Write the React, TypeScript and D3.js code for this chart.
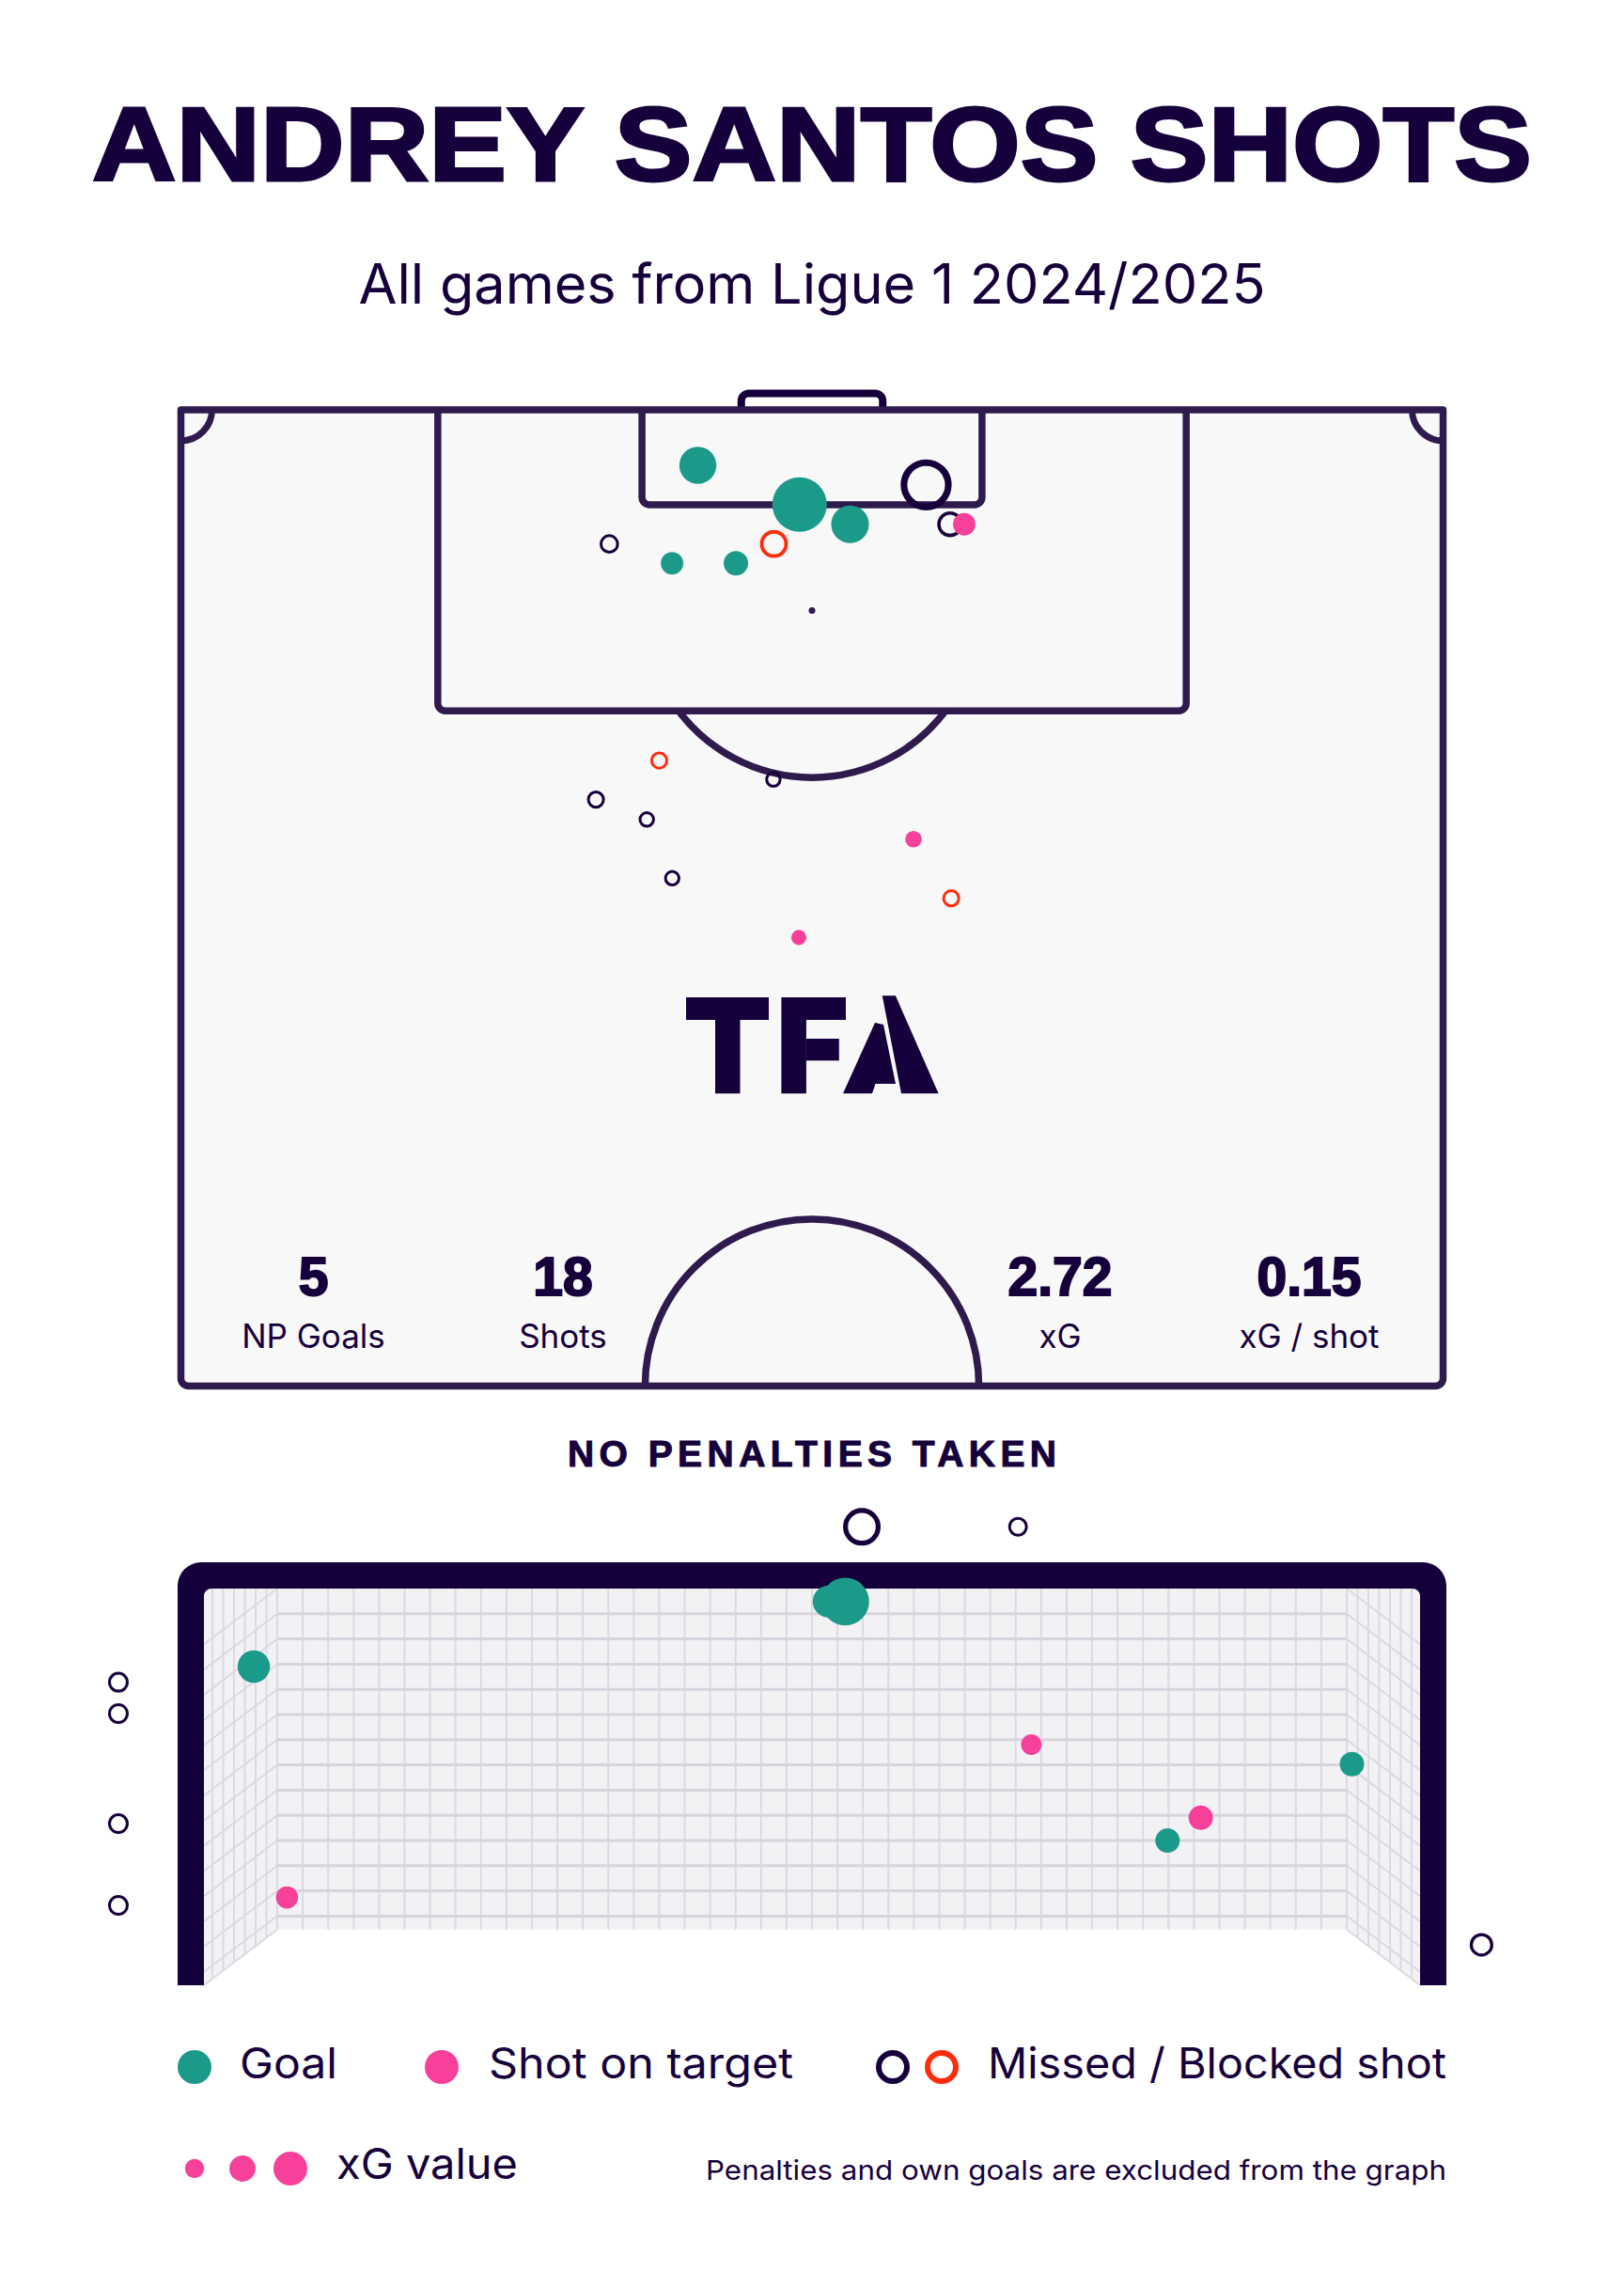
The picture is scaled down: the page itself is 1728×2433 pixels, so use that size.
import React from 'react';
import * as d3 from 'd3';

// ---------- DATA ----------
const TITLE = 'ANDREY SANTOS SHOTS';
const SUBTITLE = 'All games from Ligue 1 2024/2025';
const PEN_TEXT = 'NO PENALTIES TAKEN';
const FOOTNOTE = 'Penalties and own goals are excluded from the graph';

const statValues = ['5', '18', '2.72', '0.15'];
const statLabels = ['NP Goals', 'Shots', 'xG', 'xG / shot'];

// Pitch shots: x = metres from left touchline, y = metres from goal line
const shotX = [27.85, 33.33, 36.05, 40.15, 41.44, 42.2, 23.08, 31.95, 26.46, 29.9, 25.77, 31.92, 22.36, 25.1, 39.47, 26.47, 41.5, 33.29];
const shotY = [3.04, 5.19, 6.27, 4.11, 6.27, 6.27, 7.35, 7.35, 8.41, 8.41, 19.22, 20.26, 21.36, 22.45, 23.53, 25.67, 26.77, 28.92];
const shotXG = [0.3, 0.65, 0.31, 0.43, 0.11, 0.11, 0.06, 0.13, 0.11, 0.13, 0.05, 0.04, 0.05, 0.04, 0.06, 0.04, 0.05, 0.05];
const shotOutcome = ['Goal', 'Goal', 'Goal', 'Missed', 'Missed', 'On target', 'Missed', 'Blocked', 'Goal', 'Goal', 'Blocked', 'Missed', 'Missed', 'Missed', 'On target', 'Missed', 'Blocked', 'On target'];

// Goal-mouth view: x = metres from goal centre, y = metres above ground, v = plotted size value
const gmX = [-3.36, 0.1, 0.2, 3.25, 2.14, 1.32, 2.34, -3.16, 0.3, 1.24, -4.175, -4.175, -4.175, -4.175, 4.03];
const gmY = [1.96, 2.36, 2.36, 1.36, 0.89, 1.48, 1.03, 0.54, 2.82, 2.82, 1.864, 1.671, 0.994, 0.491, 0.249];
const gmValue = [0.3, 0.29, 0.65, 0.17, 0.17, 0.12, 0.17, 0.14, 0.305, 0.082, 0.091, 0.091, 0.091, 0.091, 0.12];
const gmOutcome = ['Goal', 'Goal', 'Goal', 'Goal', 'Goal', 'On target', 'On target', 'On target', 'Missed', 'Missed', 'Missed', 'Missed', 'Missed', 'Missed', 'Missed'];

const legendXG = [0.08, 0.15, 0.25];

// ---------- STYLE ----------
const INK = '#16003b';
const LINE = '#2e1a4c';
const TEAL = '#1b9a8a';
const PINK = '#f7409a';
const RED = '#fe2d0e';
const PITCH_BG = '#f8f8f8';
const NET_BG = '#f2f2f5';
const NET_LINE = '#dcd9e2';
const SANS = 'Inter, "Noto Sans", sans-serif';
const HEAVY = '"Liberation Sans", Arial, sans-serif';

function Marker({ cx, cy, r, outcome }: { cx: number; cy: number; r: number; outcome: string }) {
  if (outcome === 'Goal' || outcome === 'On target') {
    return <circle cx={cx} cy={cy} r={r} fill={outcome === 'Goal' ? TEAL : PINK} />;
  }
  const sw = Math.max(3, r * 0.3);
  return <circle cx={cx} cy={cy} r={r} fill="none" stroke={outcome === 'Blocked' ? RED : INK} strokeWidth={sw} />;
}

export default function App() {
  const W = 1728;
  const H = 2433;

  // pitch scales
  const px = d3.scaleLinear().domain([0, 68]).range([192.5, 1535.5]);
  const py = d3.scaleLinear().domain([0, 53.5]).range([436, 1474.5]);
  const rPitch = d3.scaleSqrt().domain([0, 1]).range([0, 36]);
  const sy = py(1) - py(0);
  const arcR = 9.15 * sy;

  // goal scales
  const gx = d3.scaleLinear().domain([-3.66, 3.66]).range([217, 1511]);
  const gy = d3.scaleLinear().domain([0, 2.44]).range([2112, 1690]);
  const rGoal = d3.scaleSqrt().domain([0, 1]).range([0, 31.5]);

  const cx = px(34);
  const top = py(0);
  const bottom = py(53.5);
  const left = px(0);
  const right = px(68);
  const boxL = px(34 - 20.16);
  const boxR = px(34 + 20.16);
  const boxB = py(16.5);
  const sixL = px(34 - 9.16);
  const sixR = px(34 + 9.16);
  const sixB = py(5.2);
  const spotY = py(11);
  const goalL = px(34 - 3.81);
  const goalR = px(34 + 3.81);
  const goalT = 418.5;
  const penHalf = Math.sqrt(arcR * arcR - (boxB - spotY) ** 2);
  const cornerR = 33;
  const rc = 8;

  const pitchShots = shotX.map((x, i) => ({ x, y: shotY[i], xg: shotXG[i], outcome: shotOutcome[i] }));
  const goalShots = gmX
    .map((x, i) => ({ x, y: gmY[i], v: gmValue[i], outcome: gmOutcome[i] }))
    .sort((a, b) => a.v - b.v);

  // net geometry
  const backL = 295, backR = 1433, backT = 1690, backB = 2052.7, postL = 217, postR = 1511, frontB = 2112;
  const shear = frontB - backB;
  const rowYs = d3.range(1, 14).map((k) => backT + k * 26.8);
  const colXs = d3.range(0, 43).map((k) => backL + (k * (backR - backL)) / 42);
  const sideCols = d3.range(1, 8).map((k) => k * 11.5).filter((d) => backL - d > postL);
  const diagYs = [backT, ...rowYs, backB];

  const statX = [333.5, 599, 1128, 1393];

  const frame = `M189,2112 V1687 A25,25 0 0 1 214,1662 H1514 A25,25 0 0 1 1539,1687 V2112 H${postR} V1698 A8,8 0 0 0 1503,1690 H225 A8,8 0 0 0 ${postL},1698 V2112 Z`;

  return (
    <svg width={W} height={H} viewBox={`0 0 ${W} ${H}`} style={{ position: 'absolute', left: 0, top: 0, background: '#fff' }}>
      <rect width={W} height={H} fill="#fff" />

      {/* Title */}
      <text x={W / 2} y={192} textAnchor="middle" fontFamily={HEAVY} fontWeight={700} fontSize={111} fill={INK} stroke={INK} strokeWidth={3} textLength={1532} lengthAdjust="spacingAndGlyphs">
        {TITLE}
      </text>
      <text x={W / 2} y={323} textAnchor="middle" fontFamily={SANS} fontSize={59} fill={INK} textLength={965} lengthAdjust="spacingAndGlyphs">
        {SUBTITLE}
      </text>

      {/* Pitch */}
      <path d={`M${goalL},${top} V${goalT + 8} A8,8 0 0 1 ${goalL + 8},${goalT} H${goalR - 8} A8,8 0 0 1 ${goalR},${goalT + 8} V${top}`} fill="none" stroke={INK} strokeWidth={8} />
      <path d={`M${left},${top} H${right} V${bottom - rc} A${rc},${rc} 0 0 1 ${right - rc},${bottom} H${left + rc} A${rc},${rc} 0 0 1 ${left},${bottom - rc} Z`} fill={PITCH_BG} stroke={LINE} strokeWidth={7.5} strokeLinejoin="round" />
      <path d={`M${left + cornerR},${top} A${cornerR},${cornerR} 0 0 1 ${left},${top + cornerR}`} fill="none" stroke={LINE} strokeWidth={7} />
      <path d={`M${right - cornerR},${top} A${cornerR},${cornerR} 0 0 0 ${right},${top + cornerR}`} fill="none" stroke={LINE} strokeWidth={7} />
      <path d={`M${boxL},${top} V${boxB - rc} A${rc},${rc} 0 0 0 ${boxL + rc},${boxB} H${boxR - rc} A${rc},${rc} 0 0 0 ${boxR},${boxB - rc} V${top}`} fill="none" stroke={LINE} strokeWidth={7.5} />
      <path d={`M${sixL},${top} V${sixB - rc} A${rc},${rc} 0 0 0 ${sixL + rc},${sixB} H${sixR - rc} A${rc},${rc} 0 0 0 ${sixR},${sixB - rc} V${top}`} fill="none" stroke={LINE} strokeWidth={7.5} />
      <path d={`M${cx - penHalf},${boxB} A${arcR},${arcR} 0 0 0 ${cx + penHalf},${boxB}`} fill="none" stroke={LINE} strokeWidth={7.5} />
      <circle cx={cx} cy={spotY} r={3.5} fill={LINE} />
      <path d={`M${cx - arcR},${bottom} A${arcR},${arcR} 0 0 1 ${cx + arcR},${bottom}`} fill="none" stroke={LINE} strokeWidth={7.5} />

      {/* TFA logo */}
      <g fill={INK}>
        <rect x={730} y={1061} width={88} height={24} />
        <rect x={761} y={1085} width={26.5} height={78.3} />
        <rect x={831.4} y={1061} width={68.6} height={24} />
        <rect x={831.4} y={1085} width={26.5} height={78.3} />
        <rect x={857.8} y={1105} width={35} height={23.3} />
        <polygon points="938.8,1059.3 952.9,1059.3 998.6,1163.3 959,1163.3" />
        <polygon points="931,1088 897,1163.3 928,1163.3 931.5,1153 953,1153 940,1090" />
      </g>

      {/* Stats */}
      {statValues.map((v, i) => (
        <g key={v}>
          <text x={statX[i]} y={1378} textAnchor="middle" fontFamily={HEAVY} fontWeight={700} fontSize={57} fill={INK} stroke={INK} strokeWidth={2}>
            {v}
          </text>
          <text x={statX[i]} y={1434} textAnchor="middle" fontFamily={SANS} fontSize={35} fill={INK}>
            {statLabels[i]}
          </text>
        </g>
      ))}

      {/* Pitch shots */}
      {pitchShots.map((s, i) => (
        <Marker key={i} cx={px(s.x)} cy={py(s.y)} r={rPitch(s.xg)} outcome={s.outcome} />
      ))}

      {/* Penalties header */}
      <text x={W / 2} y={1560} textAnchor="middle" fontFamily={HEAVY} fontWeight={700} fontSize={39} fill={INK} stroke={INK} strokeWidth={1} textLength={520} lengthAdjust="spacing">
        {PEN_TEXT}
      </text>

      {/* Goal net */}
      <rect x={backL} y={backT} width={backR - backL} height={backB - backT} fill={NET_BG} />
      <polygon points={`${postL},${backT} ${backL},${backT} ${backL},${backB} ${postL},${frontB}`} fill={NET_BG} />
      <polygon points={`${postR},${backT} ${backR},${backT} ${backR},${backB} ${postR},${frontB}`} fill={NET_BG} />
      <g stroke={NET_LINE} strokeWidth={2}>
        {colXs.map((x, i) => (
          <line key={'c' + i} x1={x} x2={x} y1={backT} y2={backB} />
        ))}
        {sideCols.map((d, i) => (
          <g key={'s' + i}>
            <line x1={backL - d} x2={backL - d} y1={backT} y2={backB + (d / (backL - postL)) * shear} />
            <line x1={backR + d} x2={backR + d} y1={backT} y2={backB + (d / (backL - postL)) * shear} />
          </g>
        ))}
        {diagYs.map((y, i) => (
          <g key={'d' + i}>
            <line x1={backL} y1={y} x2={postL} y2={y + shear} />
            <line x1={backR} y1={y} x2={postR} y2={y + shear} />
          </g>
        ))}
      </g>
      <g stroke="#d8d4de" strokeWidth={3}>
        {rowYs.map((y, i) => (
          <line key={'r' + i} x1={backL} x2={backR} y1={y} y2={y} />
        ))}
      </g>
      <path d={frame} fill={INK} />

      {/* Goal-mouth shots */}
      {goalShots.map((s, i) => (
        <Marker key={i} cx={gx(s.x)} cy={gy(s.y)} r={rGoal(s.v)} outcome={s.outcome} />
      ))}

      {/* Legend */}
      <circle cx={207} cy={2199} r={18} fill={TEAL} />
      <text x={255} y={2211} fontFamily={SANS} fontSize={45} fill={INK} textLength={104} lengthAdjust="spacingAndGlyphs">Goal</text>
      <circle cx={470} cy={2199} r={18} fill={PINK} />
      <text x={520} y={2211} fontFamily={SANS} fontSize={45} fill={INK} textLength={324} lengthAdjust="spacingAndGlyphs">Shot on target</text>
      <circle cx={950} cy={2199} r={15} fill="none" stroke={INK} strokeWidth={6} />
      <circle cx={1002} cy={2199} r={15} fill="none" stroke={RED} strokeWidth={6} />
      <text x={1051} y={2211} fontFamily={SANS} fontSize={45} fill={INK} textLength={488} lengthAdjust="spacingAndGlyphs">Missed / Blocked shot</text>

      {legendXG.map((v, i) => (
        <circle key={i} cx={207 + i * 51} cy={2307} r={rPitch(v)} fill={PINK} />
      ))}
      <text x={358} y={2318} fontFamily={SANS} fontSize={45} fill={INK} textLength={193} lengthAdjust="spacingAndGlyphs">xG value</text>
      <text x={1539} y={2319} textAnchor="end" fontFamily={SANS} fontSize={29} fill={INK} textLength={788} lengthAdjust="spacingAndGlyphs">
        {FOOTNOTE}
      </text>
    </svg>
  );
}
